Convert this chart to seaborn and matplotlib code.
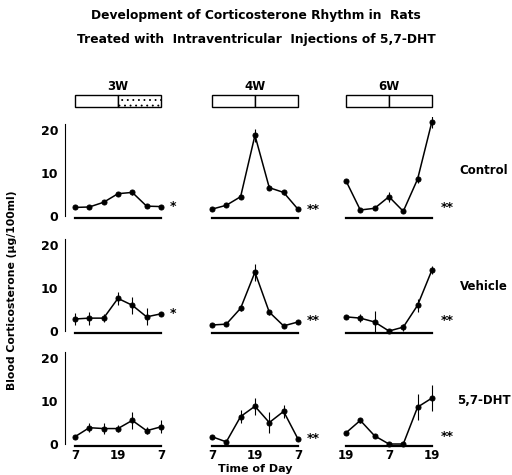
import numpy as np
import seaborn as sns
import matplotlib.pyplot as plt
from matplotlib.patches import Rectangle
import matplotlib.transforms as mtransforms

# sampling times, hours after the first sample (every 4 h)
hours = [0, 4, 8, 12, 16, 20, 24]
ages = ["3W", "4W", "6W"]
groups = ["Control", "Vehicle", "5,7-DHT"]
tick_labels = [["7", "19", "7"], ["7", "19", "7"], ["19", "7", "19"]]

# mean blood corticosterone (ug/100ml), rows = group, cols = age
control_3w = [2.0, 2.1, 3.2, 5.2, 5.5, 2.3, 2.2]
control_4w = [1.6, 2.5, 4.5, 18.8, 6.6, 5.5, 1.6]
control_6w = [8.2, 1.4, 1.8, 4.5, 1.1, 8.6, 22.0]
vehicle_3w = [2.8, 3.0, 3.0, 7.6, 6.0, 3.3, 4.0]
vehicle_4w = [1.4, 1.6, 5.3, 13.7, 4.4, 1.2, 2.1]
vehicle_6w = [3.3, 3.0, 2.1, 0.0, 0.9, 6.0, 14.2]
dht_3w = [1.7, 3.8, 3.6, 3.6, 5.5, 3.1, 4.0]
dht_4w = [1.7, 0.5, 6.4, 8.8, 5.0, 7.6, 1.2]
dht_6w = [2.6, 5.5, 1.9, 0.0, 0.0, 8.6, 10.7]

# SEM
control_3w_err = [0.3, 0.3, 0.4, 0.5, 0.5, 0.3, 0.3]
control_4w_err = [0.5, 0.4, 0.5, 1.5, 0.6, 0.5, 0.3]
control_6w_err = [0.5, 0.3, 0.3, 1.2, 0.3, 1.0, 1.5]
vehicle_3w_err = [1.5, 1.5, 1.0, 1.5, 2.0, 2.0, 0.5]
vehicle_4w_err = [0.3, 0.3, 0.6, 2.0, 0.6, 0.3, 0.3]
vehicle_6w_err = [0.5, 1.0, 2.5, 0.3, 0.8, 1.5, 1.0]
dht_3w_err = [0.3, 1.0, 1.2, 0.8, 2.0, 0.8, 1.5]
dht_4w_err = [0.5, 0.3, 1.5, 2.0, 2.5, 1.5, 0.3]
dht_6w_err = [0.3, 0.5, 0.5, 0.0, 0.0, 3.0, 3.0]

means = [[control_3w, control_4w, control_6w],
         [vehicle_3w, vehicle_4w, vehicle_6w],
         [dht_3w, dht_4w, dht_6w]]
errors = [[control_3w_err, control_4w_err, control_6w_err],
          [vehicle_3w_err, vehicle_4w_err, vehicle_6w_err],
          [dht_3w_err, dht_4w_err, dht_6w_err]]

# significance marks and the level they sit at
stars = [["*", "**", "**"], ["*", "**", "**"], ["", "**", "**"]]
star_y = [[2.2, 1.6, 1.9], [4.0, 2.5, 2.5], [0, 1.2, 1.7]]

sns.set_style("white")
plt.rcParams["font.family"] = ["DejaVu Sans"]
plt.rcParams["font.weight"] = "bold"
plt.rcParams["text.color"] = "black"
plt.rcParams["xtick.color"] = "black"
plt.rcParams["ytick.color"] = "black"
plt.rcParams["axes.edgecolor"] = "black"
plt.rcParams["hatch.color"] = "0.55"
plt.rcParams["hatch.linewidth"] = 0.6

W, H = 512, 475
fig = plt.figure(figsize=(W / 100, H / 100), dpi=100)

col_left = [69.6, 206.6, 340.6]
row_bottom = [220.3, 335.3, 448.3]
ax_w, ax_h = 96.7, 103

axes = [[None] * 3 for _ in range(3)]
for r in range(3):
    for c in range(3):
        ax = fig.add_axes([col_left[c] / W, (H - row_bottom[r]) / H, ax_w / W, ax_h / H])
        axes[r][c] = ax
        sns.lineplot(x=hours, y=means[r][c], ax=ax, color="black", lw=1.1,
                     marker="o", markersize=3.6, markeredgecolor="black")
        lo = np.array(means[r][c]) - np.array(errors[r][c])
        hi = np.array(means[r][c]) + np.array(errors[r][c])
        ax.vlines(hours, lo, hi, color="black", lw=0.8)
        ax.set_xlim(-1.5, 25.5)
        ax.set_ylim(-1, 23)
        ax.set_facecolor("none")
        sns.despine(ax=ax, top=True, right=True, left=(c != 0))
        ax.spines["bottom"].set_bounds(0, 24)
        ax.spines["bottom"].set_position(("data", -0.4))
        ax.spines["bottom"].set_linewidth(1.6)
        ax.set_xticks([0, 12, 24])
        ax.tick_params(axis="x", direction="in", length=3, width=1, pad=2,
                       labelsize=8.5)
        if r == 2:
            ax.set_xticklabels(tick_labels[c], fontweight="bold")
        else:
            ax.set_xticklabels([])
        if c == 0:
            ax.spines["left"].set_bounds(0, 21.5)
            ax.spines["left"].set_position(("outward", 3))
            ax.set_yticks([0, 10, 20])
            ax.tick_params(axis="y", direction="out", length=3, width=1, pad=2,
                           labelsize=9)
            ax.set_yticklabels(["0", "10", "20"], fontweight="bold")
        else:
            ax.set_yticks([])
        if stars[r][c]:
            ax.text(26.5, star_y[r][c], stars[r][c], ha="left", va="center",
                    fontsize=9, fontweight="bold")

# light/dark boxes above the top row
for c in range(3):
    ax = axes[0][c]
    tr = mtransforms.blended_transform_factory(ax.transData, ax.transAxes)
    ax.add_patch(Rectangle((0, 1.10), 12, 0.115, transform=tr, clip_on=False,
                           facecolor="white", edgecolor="black", lw=1))
    ax.add_patch(Rectangle((12, 1.10), 12, 0.115, transform=tr, clip_on=False,
                           facecolor="white", edgecolor="black", lw=1,
                           hatch="..." if c == 0 else None))
    ax.text(12, 1.30, ages[c], transform=tr, ha="center", va="center",
            fontsize=8.5, fontweight="bold")

fig.text(256 / W, 1 - 15 / H, "Development of Corticosterone Rhythm in  Rats",
         ha="center", va="center", fontsize=8.8, fontweight="bold")
fig.text(256 / W, 1 - 40 / H, "Treated with  Intraventricular  Injections of 5,7-DHT",
         ha="center", va="center", fontsize=8.8, fontweight="bold")

row_label_y = [170, 287, 400]
for r in range(3):
    fig.text(484 / W, 1 - row_label_y[r] / H, groups[r], ha="center",
             va="center", fontsize=8.5, fontweight="bold")

fig.text(12 / W, 1 - 290 / H, "Blood Corticosterone (\u00b5g/100ml)", rotation=90,
         ha="center", va="center", fontsize=7.8, fontweight="bold")
fig.text(255 / W, 1 - 469.5 / H, "Time of Day", ha="center", va="center",
         fontsize=8, fontweight="bold")

fig.savefig("out.png", dpi=100)
